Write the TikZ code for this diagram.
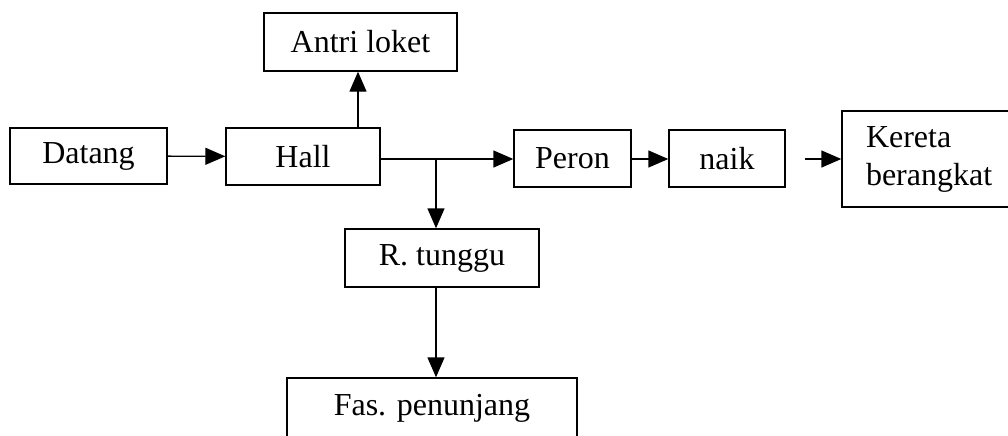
\documentclass[tikz,border=0pt]{standalone}
\usepackage{fontspec}
\setmainfont{Liberation Serif}
\usetikzlibrary{arrows.meta}

\begin{document}
\begin{tikzpicture}[x=.5pt, y=-.5pt, >={Triangle[length=10pt,width=8.5pt]},
  box/.style={draw, line width=.7pt, inner sep=0pt, font=\fontsize{16}{19}\selectfont},
  flow/.style={->, line width=.7pt}]
\clip (0,0) rectangle (1008,435);

\node[box, minimum width=78.5pt, minimum height=28pt] (datang) at (88.5,156) {Datang};
\node[box, minimum width=77pt, minimum height=28.5pt] (hall) at (303,156.5) {Hall};
\node[box, minimum width=96.5pt, minimum height=29pt] (antri) at (360.5,42) {Antri loket};
\node[box, minimum width=58.5pt, minimum height=28.5pt] (peron) at (572.5,158.5) {Peron};
\node[box, minimum width=58pt, minimum height=28.5pt] (naik) at (727,158.5) {naik};
\node[box, minimum width=100pt, minimum height=48pt, text width=76pt, align=left] (kereta) at (942,159) {Kereta\\berangkat};
\node[box, minimum width=97pt, minimum height=29pt] (rtunggu) at (442,258) {R. tunggu};
\node[box, minimum width=145pt, minimum height=30pt] (fas) at (432,408) {Fas. penunjang};

\coordinate (split) at (436,159);

\draw[flow] (datang) -- (hall);
\draw[flow] (hall.north -| 358,0) -- (antri.south -| 358,0);
\draw[flow] (hall.east |- split) -- (peron.west |- split);
\draw[flow] (split) -- (split |- rtunggu.north);
\draw[flow] (peron.east |- split) -- (naik.west |- split);
\draw[flow, shorten <=9.5pt] (naik.east |- split) -- (kereta.west |- split);
\draw[flow] (split |- rtunggu.south) -- (split |- fas.north);
\end{tikzpicture}
\end{document}
